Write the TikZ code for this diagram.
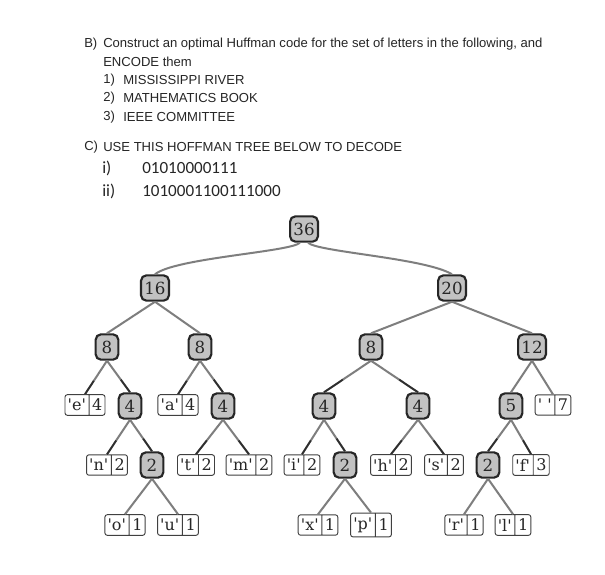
\documentclass[tikz,border=0pt]{standalone}
\usepackage{fontspec}
\usetikzlibrary{shapes.multipart,calc}
\newfontfamily\hdrfont{Liberation Sans}
\newfontfamily\numfont{Carlito}
\newfontfamily\treefont{DejaVu Serif}[Ligatures=TeXOff]
\definecolor{innerfill}{HTML}{C2C2C2}
\definecolor{edgegray}{HTML}{7E7E7E}
\definecolor{edgedarkc}{HTML}{2E2E2E}
\tikzset{
  hdr/.style={anchor=west, inner sep=0pt, font=\hdrfont\fontsize{9.8}{11}\selectfont, text=black!85},
  bin/.style={anchor=west, inner sep=0pt, font=\numfont\fontsize{12.8}{14}\selectfont, text=black!85},
  inode/.style={draw=black!85, line width=1.6pt, rounded corners=4pt, fill=innerfill,
    minimum height=19pt, minimum width=17pt, inner xsep=2.5pt, inner ysep=1pt,
    font=\treefont\fontsize{12.5}{13}\selectfont, text=black!85},
  leaf/.style={rectangle split, rectangle split horizontal, rectangle split parts=2,
    draw=black!75, line width=0.7pt, rounded corners=1.8pt, fill=white,
    inner xsep=2pt, inner ysep=3.2pt,
    font=\treefont\fontsize{12}{13}\selectfont, text=black!85},
  edge/.style={draw=edgegray, line width=1.5pt},
  edgedark/.style={draw=edgedarkc, line width=1.3pt}
}
\begin{document}
\begin{tikzpicture}[x=0.75pt,y=-0.75pt]
\useasboundingbox[fill=white] (0,0) rectangle (605,574);
% header text
\node[hdr] (tb) at (84,44) {B)};
\node[hdr] (tb1) at (103,44) {Construct an optimal Huffman code for the set of letters in the following, and};
\node[hdr] (tb2) at (103,62) {ENCODE them};
\node[hdr] (t1n) at (103,80) {1)};
\node[hdr] (t1) at (123,80) {MISSISSIPPI RIVER};
\node[hdr] (t2n) at (103,98) {2)};
\node[hdr] (t2) at (123,98) {MATHEMATICS BOOK};
\node[hdr] (t3n) at (103,117) {3)};
\node[hdr] (t3) at (123,117) {IEEE COMMITTEE};
\node[hdr] (tc) at (84,147) {C)};
\node[hdr] (tc1) at (103,147) {USE THIS HOFFMAN TREE BELOW TO DECODE};
\node[bin] (ti) at (102,168) {i)};
\node[bin] (tin) at (142,168) {01010000111};
\node[bin] (tii) at (102,191) {ii)};
\node[bin] (tiin) at (142,191) {1010001100111000};

% internal nodes
\node[inode] (n36) at (304,229) {36};
\node[inode] (n16) at (155,288) {16};
\node[inode] (n20) at (452,288) {20};
\node[inode] (n8a) at (107,347) {8};
\node[inode] (n8b) at (200,347) {8};
\node[inode] (n8c) at (371,347) {8};
\node[inode] (n12) at (532,347) {12};
\node[inode] (n4a) at (130,406) {4};
\node[inode] (n4b) at (223,406) {4};
\node[inode] (n4c) at (324,406) {4};
\node[inode] (n4d) at (418,406) {4};
\node[inode] (n5) at (511,406) {5};
\node[inode] (n2a) at (152,465) {2};
\node[inode] (n2b) at (345,465) {2};
\node[inode] (n2c) at (488,465) {2};

% leaves
\node[leaf] (e4) at (85,405) {'e'\nodepart{two}4};
\node[leaf] (a4) at (178,405) {'a'\nodepart{two}4};
\node[leaf] (sp7) at (553,405) {'\ '\nodepart{two}7};
\node[leaf] (nn2) at (107,465) {'n'\nodepart{two}2};
\node[leaf] (t2) at (196,465) {'t'\nodepart{two}2};
\node[leaf] (m2) at (249,465) {'m'\nodepart{two}2};
\node[leaf] (i2) at (302,465) {'i'\nodepart{two}2};
\node[leaf] (h2) at (391,465) {'h'\nodepart{two}2};
\node[leaf] (s2) at (444,465) {'s'\nodepart{two}2};
\node[leaf] (f3) at (531,465) {'f'\nodepart{two}3};
\node[leaf] (o1) at (125,525) {'o'\nodepart{two}1};
\node[leaf] (u1) at (178,525) {'u'\nodepart{two}1};
\node[leaf] (x1) at (318,525) {'x'\nodepart{two}1};
\node[leaf] (p1) at (371,525) {'p'\nodepart{two}1};
\node[leaf] (r1) at (464,525) {'r'\nodepart{two}1};
\node[leaf] (l1) at (513,525) {'l'\nodepart{two}1};

% curved top edges
\draw[edge] ([xshift=-3pt]n36.south) .. controls (290,252) and (175,258) .. (n16.north);
\draw[edge] ([xshift=3pt]n36.south) .. controls (318,252) and (425,258) .. (n20.north);

% straight edges
\foreach \p/\c in {n16/n8a,n16/n8b,n20/n8c,n20/n12,
  n8a/e4,n8a/n4a,n8b/a4,n8b/n4b,n8c/n4c,n8c/n4d,n12/n5,n12/sp7,
  n4a/nn2,n4a/n2a,n4b/t2,n4b/m2,n4c/i2,n4c/n2b,n4d/h2,n4d/s2,n5/n2c,n5/f3,
  n2a/o1,n2a/u1,n2b/x1,n2b/p1,n2c/r1,n2c/l1}{
  \draw[edge] (\p.south) -- (\c.north);
}
\foreach \p/\c in {n8a/e4,n8a/n4a,n8b/a4,n8b/n4b,n8c/n4c,n8c/n4d,
  n4a/nn2,n4a/n2a,n4b/t2,n4b/m2,n4c/i2,n4c/n2b,n4d/h2,n4d/s2,n5/n2c,n5/f3}{
  \draw[edgedark] ($(\p.south)!0.6!(\c.north)$) -- (\c.north);
}
\end{tikzpicture}
\end{document}
